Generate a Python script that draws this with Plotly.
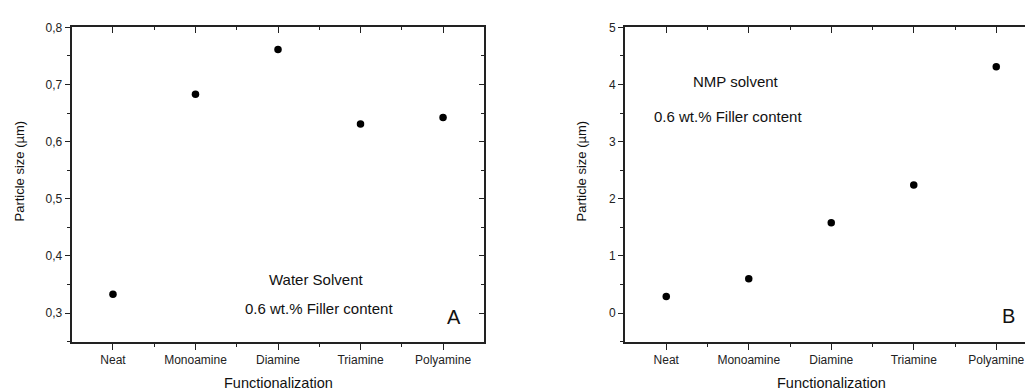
import plotly.graph_objects as go

categories = ["Neat", "Monoamine", "Diamine", "Triamine", "Polyamine"]
cat_pos = [1, 2, 3, 4, 5]
water_size = [0.333, 0.683, 0.761, 0.631, 0.642]
nmp_size = [0.29, 0.60, 1.58, 2.24, 4.31]

W, H = 1025, 390
FONT = "Liberation Sans, Arial, sans-serif"
AX = "#222222"

def px(x):
    return x / W

def py(y):
    return 1 - y / H

ydom = [py(340.7), py(20.7)]
xdomA = [px(71.7), px(484.3)]
xdomB = [px(625.0), 1.0]
spanB = (1025 - 625.0) / 82.5

fig = go.Figure()

mk = dict(color="black", size=7.5, symbol="circle")
fig.add_trace(go.Scatter(x=cat_pos, y=water_size, mode="markers", marker=mk,
                         xaxis="x", yaxis="y", showlegend=False))
fig.add_trace(go.Scatter(x=cat_pos, y=nmp_size, mode="markers", marker=mk,
                         xaxis="x2", yaxis="y2", showlegend=False))
# invisible helpers so the mirrored (inside-tick) axes are drawn
inv = dict(opacity=0, size=1)
fig.add_trace(go.Scatter(x=cat_pos, y=water_size, mode="markers", marker=inv,
                         xaxis="x3", yaxis="y", showlegend=False, hoverinfo="skip"))
fig.add_trace(go.Scatter(x=cat_pos, y=water_size, mode="markers", marker=inv,
                         xaxis="x", yaxis="y3", showlegend=False, hoverinfo="skip"))
fig.add_trace(go.Scatter(x=cat_pos, y=nmp_size, mode="markers", marker=inv,
                         xaxis="x4", yaxis="y2", showlegend=False, hoverinfo="skip"))

tickfont = dict(family=FONT, size=12, color="#222")

def xax(domain, rng, anchor, side="bottom", ticks="outside", labels=True, overlaying=None):
    d = dict(domain=domain, range=rng, anchor=anchor, side=side,
             tickmode="array", tickvals=cat_pos, ticktext=categories,
             ticks=ticks, ticklen=6, tickwidth=1.2, tickcolor=AX,
             showticklabels=labels, tickfont=tickfont,
             showline=True, linecolor=AX, linewidth=2,
             showgrid=False, zeroline=False, fixedrange=True,
             minor=dict(tickmode="array", tickvals=[1.5, 2.5, 3.5, 4.5],
                        ticks=ticks, ticklen=3, tickwidth=1.2, tickcolor=AX, showgrid=False))
    if overlaying:
        d["overlaying"] = overlaying
    return d

def yax(domain, rng, dtick, mdtick, anchor, fmt, side="left", ticks="outside",
        labels=True, overlaying=None):
    d = dict(domain=domain, range=rng, anchor=anchor, side=side,
             tick0=0, dtick=dtick, tickformat=fmt,
             ticks=ticks, ticklen=5, tickwidth=1.2, tickcolor=AX,
             showticklabels=labels, tickfont=tickfont,
             showline=True, linecolor=AX, linewidth=2,
             showgrid=False, zeroline=False, fixedrange=True,
             minor=dict(tick0=0, dtick=mdtick, ticks=ticks, ticklen=3, tickwidth=1.2,
                        tickcolor=AX, showgrid=False))
    if overlaying:
        d["overlaying"] = overlaying
    return d

fig.update_layout(
    width=W, height=H,
    margin=dict(l=0, r=0, t=0, b=0),
    paper_bgcolor="white", plot_bgcolor="white",
    separators=",.",
    font=dict(family=FONT, color="#222"),
    xaxis=xax(xdomA, [0.5, 5.5], "y"),
    yaxis=yax(ydom, [0.25, 0.8], 0.1, 0.05, "x", ".1f"),
    xaxis3=xax(xdomA, [0.5, 5.5], "y", side="top", ticks="inside", labels=False, overlaying="x"),
    yaxis3=yax(ydom, [0.25, 0.8], 0.1, 0.05, "x", ".1f", side="right", ticks="inside",
               labels=False, overlaying="y"),
    xaxis2=xax(xdomB, [0.5, 0.5 + spanB], "y2"),
    yaxis2=yax(ydom, [-0.5, 5], 1, 0.5, "x2", "d"),
    xaxis4=xax(xdomB, [0.5, 0.5 + spanB], "y2", side="top", ticks="inside", labels=False,
               overlaying="x2"),
)

def ann(text, x, y, size, angle=0):
    fig.add_annotation(text=text, x=px(x), y=py(y), xref="paper", yref="paper",
                       showarrow=False, textangle=angle, xanchor="center", yanchor="middle",
                       font=dict(family=FONT, size=size, color="#111"))

# axis titles
ann("Functionalization", 278, 383, 14.5)
ann("Functionalization", 831, 383, 14.5)
ann("Particle size (µm)", 19, 167.5, 13, angle=-90)
ann("Particle size (µm)", 581, 167.5, 13, angle=-90)

# panel notes
ann("Water Solvent", 315.5, 277.3, 15)
ann("0.6 wt.% Filler content", 319.2, 307.3, 15)
ann("A", 453.7, 315.7, 20)
ann("NMP solvent", 736.3, 76, 15)
ann("0.6 wt.% Filler content", 728, 111, 15)
ann("B", 1008.7, 315, 20)

fig.write_html("out.html")
